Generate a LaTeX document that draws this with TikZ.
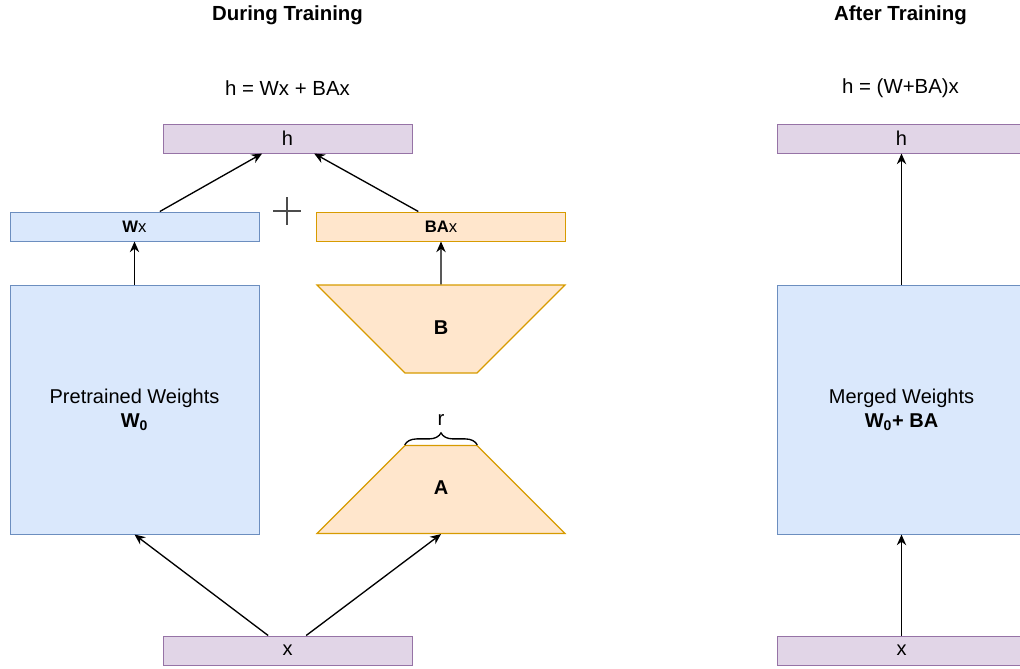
\documentclass[tikz,border=0pt]{standalone}
\usepackage{fontspec}
\setmainfont{Liberation Sans}
\usetikzlibrary{positioning,shapes.geometric,arrows.meta,decorations.pathreplacing}
\definecolor{blueFill}{HTML}{DAE8FC}
\definecolor{blueLine}{HTML}{6C8EBF}
\definecolor{orangeFill}{HTML}{FFE6CC}
\definecolor{orangeLine}{HTML}{D79B00}
\definecolor{purpleFill}{HTML}{E1D5E7}
\definecolor{purpleLine}{HTML}{9673A6}
\tikzset{
    iobox/.style={
           rectangle,
           draw=purpleLine, fill=purpleFill,
           line width=0.75pt,
           minimum width=186.75pt,
           minimum height=21.75pt,
           inner sep=0pt,
           font=\fontsize{15}{18}\selectfont,
           },
    outbox/.style={
           iobox,
           font=\fontsize{12.5}{15}\selectfont,
           },
    weights/.style={
           rectangle,
           draw=blueLine, fill=blueFill,
           line width=0.75pt,
           minimum width=186.75pt,
           minimum height=186.75pt,
           inner sep=0pt,
           align=center,
           font=\fontsize{15}{18}\selectfont,
           },
    lowrank/.style={
           trapezium,
           trapezium left angle=45, trapezium right angle=45,
           trapezium stretches body,
           draw=orangeLine, fill=orangeFill,
           line width=0.9pt,
           minimum width=186pt,
           text height=8pt, text depth=0pt,
           inner xsep=0pt, inner ysep=29pt,
           font=\bfseries\fontsize{15}{18}\selectfont,
           },
    caption/.style={font=\fontsize{15.3}{18}\selectfont},
    flow/.style={-{Stealth[length=8pt,width=7pt]}, line width=1pt},
}

\begin{document}
\begin{tikzpicture}[x=0.75pt, y=-0.75pt]
    \clip (0,0) rectangle (1020,668);

    % left half: LoRA while training
    \node[caption, font=\bfseries\fontsize{15.3}{18}\selectfont] (titleL) at (287.5,15) {During Training};
    \node[caption] (eqL) at (287.5,88) {h = Wx + BAx};

    \node[iobox] (hL) at (287.5,138.5) {h};
    \node[iobox] (xL) at (287.5,650.5) {x};

    \node[weights] (pre) at (134.5,409.5) % frozen pretrained matrix
    {Pretrained Weights\\\textbf{W\textsubscript{0}}};

    \node[outbox, draw=blueLine, fill=blueFill] (wx) at (134.5,226.5) {\textbf{W}x};
    \node[outbox, draw=orangeLine, fill=orangeFill] (bax) at (441,226.5) {\textbf{BA}x};

    \node[lowrank, shape border rotate=180] (B) at (441,329) {B};
    \node[lowrank] (A) at (441,489.5) {A};

    % rank brace above A
    \draw[decorate, decoration={brace, amplitude=9pt}, line width=1pt]
        (A.top left corner) -- (A.top right corner)
        node[midway, above=11pt, caption] (rank) {r};

    % plus sign between both branches
    \draw[black!70, line width=1pt] (273,211) -- (301,211) (287,197) -- (287,225);

    \draw[flow] ([xshift=-14.5pt]xL.north) -- (pre.south);
    \draw[flow] ([xshift=14pt]xL.north) -- (A.south);
    \draw[flow] (pre.north) -- (wx.south);
    \draw[flow] (B.north) -- (bax.south);
    \draw[flow] ([xshift=19pt]wx.north) -- ([xshift=-19pt]hL.south);
    \draw[flow] ([xshift=-17pt]bax.north) -- ([xshift=20pt]hL.south);

    % right half: merged weights
    \node[caption, font=\bfseries\fontsize{15.3}{18}\selectfont] (titleR) at (900.5,15) {After Training};
    \node[caption] (eqR) at (900.5,88) {h = (W+BA)x};

    \node[iobox] (hR) at (901.5,138.5) {h};
    \node[weights] (merged) at (901.5,409.5)
    {Merged Weights\\\textbf{W\textsubscript{0}+ BA}};
    \node[iobox] (xR) at (901.5,650.5) {x};

    \draw[flow] (xR) -- (merged);
    \draw[flow] (merged) -- (hR);
\end{tikzpicture}
\end{document}
